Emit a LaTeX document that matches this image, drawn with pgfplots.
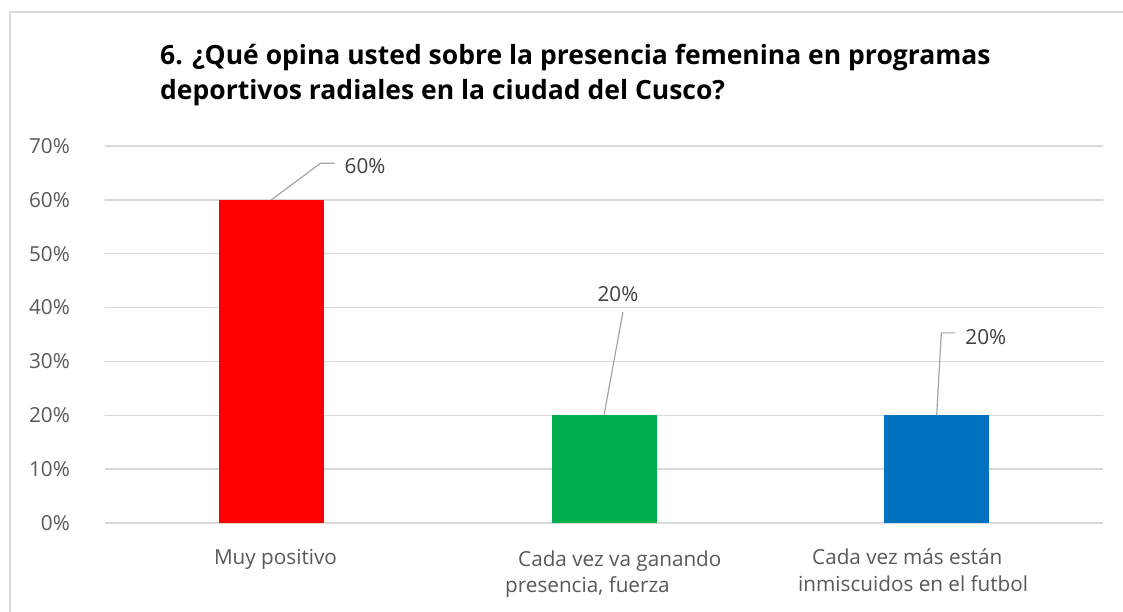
\documentclass[border=0pt]{standalone}
\usepackage{pgfplots}
\pgfplotsset{compat=1.18}
\usepackage{fontspec}
\setmainfont{Open Sans}
\definecolor{gridc}{HTML}{D9D9D9}
\definecolor{txt}{HTML}{595959}
\definecolor{dl}{HTML}{404040}
\definecolor{lead}{HTML}{A6A6A6}
\definecolor{cred}{HTML}{FF0000}
\definecolor{cgreen}{HTML}{00B050}
\definecolor{cblue}{HTML}{0070C0}
\newcommand{\lbl}{\fontsize{20.7}{25}\selectfont}
\begin{document}
\begin{tikzpicture}[x=1pt,y=1pt]
\useasboundingbox (0,0) rectangle (1123,612);
\fill[white] (0,0) rectangle (1123,612);
\draw[gridc, line width=1.5pt] (10,-5) -- (10,600) -- (1130,600);
\node[anchor=base west, inner sep=0pt, font=\fontsize{26.5}{35}\selectfont\bfseries] at (160,547) {6. ¿Qué opina usted sobre la presencia femenina en programas};
\node[anchor=base west, inner sep=0pt, font=\fontsize{26.5}{35}\selectfont\bfseries] at (160,512) {deportivos radiales en la ciudad del Cusco?};
\begin{axis}[at={(105pt,89pt)}, anchor=south west, scale only axis,
  width=998pt, height=377pt,
  xmin=-0.5, xmax=2.5, ymin=0, ymax=70,
  ytick={0,10,20,30,40,50,60,70},
  yticklabels={0\%,10\%,20\%,30\%,40\%,50\%,60\%,70\%},
  xtick=\empty,
  axis line style={draw=none}, tick style={draw=none}, major tick length=0pt,
  ymajorgrids, grid style={gridc, line width=1.5pt},
  yticklabel style={font=\lbl, text=txt, inner sep=0pt, anchor=east, xshift=-35pt},
  ybar, bar width=105pt, bar shift=0pt, clip=false]
\addplot[fill=cred, draw=none] coordinates {(0,60)};
\addplot[fill=cgreen, draw=none] coordinates {(1,20)};
\addplot[fill=cblue, draw=none] coordinates {(2,20)};
\draw[lead, line width=1.2pt] (axis cs:0,60) -- (axis cs:0.148,66.8) -- (axis cs:0.19,66.8);
\node[anchor=west, inner sep=0pt, font=\lbl, text=dl] at (axis cs:0.22,66.3) {60\%};
\draw[lead, line width=1.2pt] (axis cs:1,20) -- (axis cs:1.057,39.2);
\node[anchor=base, inner sep=0pt, font=\lbl, text=dl] at (axis cs:1.042,41.2) {20\%};
\draw[lead, line width=1.2pt] (axis cs:2,20) -- (axis cs:2.014,35.3) -- (axis cs:2.056,35.3);
\node[anchor=west, inner sep=0pt, font=\lbl, text=dl] at (axis cs:2.086,34.5) {20\%};
\end{axis}
\node[anchor=base, inner sep=0pt, font=\lbl, text=txt] at (275.5,47) {Muy positivo};
\node[anchor=base west, inner sep=0pt, font=\lbl, text=txt] at (518,45) {Cada vez va ganando};
\node[anchor=base west, inner sep=0pt, font=\lbl, text=txt] at (505,19) {presencia, fuerza};
\node[anchor=base west, inner sep=0pt, font=\lbl, text=txt] at (812,47) {Cada vez más están};
\node[anchor=base west, inner sep=0pt, font=\lbl, text=txt] at (798,20) {inmiscuidos en el futbol};
\end{tikzpicture}
\end{document}
